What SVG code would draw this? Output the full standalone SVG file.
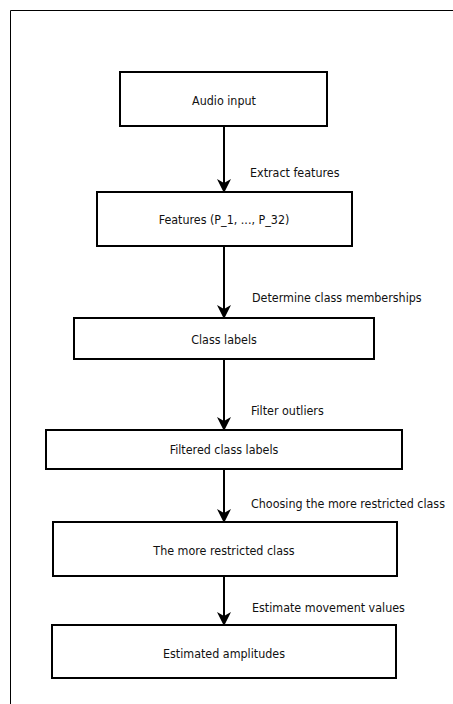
<svg xmlns="http://www.w3.org/2000/svg" width="453" height="704" viewBox="0 0 453 704">
<style>
.box{fill:#fff;stroke:#000;stroke-width:2}
.t{font-family:"DejaVu Sans Condensed","DejaVu Sans",sans-serif;font-size:12.4px;fill:#111}
.c{text-anchor:middle}
.e{stroke:#000;stroke-width:2;fill:none;marker-end:url(#ah)}
</style>
<defs>
<marker id="ah" markerWidth="14" markerHeight="14" viewBox="0 0 14 14" refX="13" refY="7" orient="auto" markerUnits="userSpaceOnUse">
<path d="M0,0 L14,7 L0,14 L4,7 Z" fill="#000"/>
</marker>
</defs>
<rect width="453" height="704" fill="#fff"/>
<path d="M453,10.5 H10.5 V704" fill="none" stroke="#000" stroke-width="1"/>
<g id="connectors">
<line class="e" x1="224" y1="126" x2="224" y2="192"/>
<line class="e" x1="224" y1="246" x2="224" y2="318"/>
<line class="e" x1="224" y1="359" x2="224" y2="430"/>
<line class="e" x1="224" y1="469" x2="224" y2="522"/>
<line class="e" x1="224" y1="576" x2="224" y2="625"/>
<text class="t" x="250" y="177">Extract features</text>
<text class="t" x="252" y="302">Determine class memberships</text>
<text class="t" x="251" y="414.5">Filter outliers</text>
<text class="t" x="251" y="507.5">Choosing the more restricted class</text>
<text class="t" x="252" y="611.5">Estimate movement values</text>
</g>
<g id="n1"><rect class="box" x="120" y="72" width="207" height="54"/><text class="t c" x="224" y="104.5">Audio input</text></g>
<g id="n2"><rect class="box" x="97" y="192" width="255" height="54"/><text class="t c" x="224" y="224">Features (P_1, ..., P_32)</text></g>
<g id="n3"><rect class="box" x="74" y="318" width="300" height="41"/><text class="t c" x="224" y="343.5">Class labels</text></g>
<g id="n4"><rect class="box" x="46" y="430" width="356" height="39"/><text class="t c" x="224" y="453.5">Filtered class labels</text></g>
<g id="n5"><rect class="box" x="53" y="522" width="344" height="54"/><text class="t c" x="224" y="554.5">The more restricted class</text></g>
<g id="n6"><rect class="box" x="52" y="625" width="344" height="53"/><text class="t c" x="224" y="657.5">Estimated amplitudes</text></g>
</svg>
